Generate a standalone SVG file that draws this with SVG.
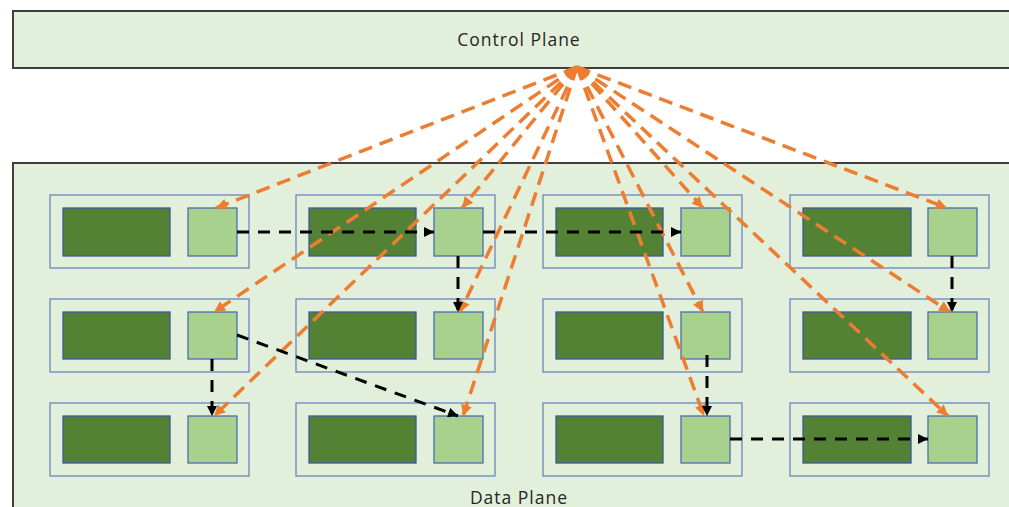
<svg xmlns="http://www.w3.org/2000/svg" width="1009" height="507" viewBox="0 0 1009 507">
<defs>
<style>
.plane{fill:#E2EFDA;stroke:#3F3F3F;stroke-width:2}
.outer{fill:#E2EFDA;stroke:#6F8FC2;stroke-width:1.4}
.dark{fill:#548235;stroke:#3A5A9A;stroke-width:1.3}
.light{fill:#A9D18E;stroke:#4A6FAF;stroke-width:1.3}
.lbl{font-family:"Open Sans","DejaVu Sans",sans-serif;font-size:17.5px;letter-spacing:1px;fill:#262626;text-anchor:middle}
.ctl{fill:none;stroke:#ED7D31;stroke-width:3.5;stroke-dasharray:14 8}
.dat{fill:none;stroke:#000;stroke-width:3;stroke-dasharray:12 9}
</style>
<marker id="ao" viewBox="0 0 10 10" refX="10" refY="5" markerWidth="12" markerHeight="11" markerUnits="userSpaceOnUse" orient="auto">
<path d="M0,0 L10,5 L0,10 Z" fill="#ED7D31"/>
</marker>
<marker id="ab" viewBox="0 0 10 10" refX="10" refY="5" markerWidth="11" markerHeight="10" markerUnits="userSpaceOnUse" orient="auto">
<path d="M0,0 L10,5 L0,10 Z" fill="#000"/>
</marker>
</defs>
<rect width="1009" height="507" fill="#fff"/>
<g id="control-plane">
<rect class="plane" x="13" y="11" width="1010" height="57"/>
<text class="lbl" x="519" y="46">Control Plane</text>
</g>
<g id="data-plane">
<rect class="plane" x="13" y="163" width="1010" height="360"/>
<text class="lbl" x="519" y="503.5">Data Plane</text>
</g>
<g id="node-r1c1"><rect class="outer" x="50" y="195" width="199" height="73"/><rect class="dark" x="63" y="208" width="107" height="48"/><rect class="light" x="188" y="208" width="49" height="48"/></g>
<g id="node-r1c2"><rect class="outer" x="296" y="195" width="199" height="73"/><rect class="dark" x="309" y="208" width="107" height="48"/><rect class="light" x="434" y="208" width="49" height="48"/></g>
<g id="node-r1c3"><rect class="outer" x="543" y="195" width="199" height="73"/><rect class="dark" x="556" y="208" width="107" height="48"/><rect class="light" x="681" y="208" width="49" height="48"/></g>
<g id="node-r1c4"><rect class="outer" x="790" y="195" width="199" height="73"/><rect class="dark" x="803" y="208" width="108" height="48"/><rect class="light" x="928" y="208" width="49" height="48"/></g>
<g id="node-r2c1"><rect class="outer" x="50" y="299" width="199" height="73"/><rect class="dark" x="63" y="312" width="107" height="47"/><rect class="light" x="188" y="312" width="49" height="47"/></g>
<g id="node-r2c2"><rect class="outer" x="296" y="299" width="199" height="73"/><rect class="dark" x="309" y="312" width="107" height="47"/><rect class="light" x="434" y="312" width="49" height="47"/></g>
<g id="node-r2c3"><rect class="outer" x="543" y="299" width="199" height="73"/><rect class="dark" x="556" y="312" width="107" height="47"/><rect class="light" x="681" y="312" width="49" height="47"/></g>
<g id="node-r2c4"><rect class="outer" x="790" y="299" width="199" height="73"/><rect class="dark" x="803" y="312" width="108" height="47"/><rect class="light" x="928" y="312" width="49" height="47"/></g>
<g id="node-r3c1"><rect class="outer" x="50" y="403" width="199" height="73"/><rect class="dark" x="63" y="416" width="107" height="47"/><rect class="light" x="188" y="416" width="49" height="47"/></g>
<g id="node-r3c2"><rect class="outer" x="296" y="403" width="199" height="73"/><rect class="dark" x="309" y="416" width="107" height="47"/><rect class="light" x="434" y="416" width="49" height="47"/></g>
<g id="node-r3c3"><rect class="outer" x="543" y="403" width="199" height="73"/><rect class="dark" x="556" y="416" width="107" height="47"/><rect class="light" x="681" y="416" width="49" height="47"/></g>
<g id="node-r3c4"><rect class="outer" x="790" y="403" width="199" height="73"/><rect class="dark" x="803" y="416" width="108" height="47"/><rect class="light" x="928" y="416" width="49" height="47"/></g>
<g id="connectors">
<g id="control-links">
<line class="ctl" x1="577" y1="67" x2="216" y2="208" marker-end="url(#ao)"/>
<line class="ctl" x1="577" y1="67" x2="462" y2="208" marker-end="url(#ao)"/>
<line class="ctl" x1="577" y1="67" x2="703" y2="208" marker-end="url(#ao)"/>
<line class="ctl" x1="577" y1="67" x2="947" y2="208" marker-end="url(#ao)"/>
<line class="ctl" x1="577" y1="67" x2="214" y2="312" marker-end="url(#ao)"/>
<line class="ctl" x1="577" y1="67" x2="460" y2="312" marker-end="url(#ao)"/>
<line class="ctl" x1="577" y1="67" x2="703" y2="312" marker-end="url(#ao)"/>
<line class="ctl" x1="577" y1="67" x2="950" y2="312" marker-end="url(#ao)"/>
<line class="ctl" x1="577" y1="67" x2="214" y2="416" marker-end="url(#ao)"/>
<line class="ctl" x1="577" y1="67" x2="463" y2="416" marker-end="url(#ao)"/>
<line class="ctl" x1="577" y1="67" x2="704" y2="416" marker-end="url(#ao)"/>
<line class="ctl" x1="577" y1="67" x2="948" y2="416" marker-end="url(#ao)"/>
</g>
<g id="data-links">
<line class="dat" x1="237" y1="232" x2="434" y2="232" marker-end="url(#ab)"/>
<line class="dat" x1="483" y1="232" x2="681" y2="232" marker-end="url(#ab)"/>
<line class="dat" x1="458" y1="256" x2="458" y2="312" marker-end="url(#ab)"/>
<line class="dat" x1="952" y1="256" x2="952" y2="312" marker-end="url(#ab)"/>
<line class="dat" x1="237" y1="335" x2="458" y2="416" marker-end="url(#ab)"/>
<line class="dat" x1="212" y1="359" x2="212" y2="416" marker-end="url(#ab)"/>
<line class="dat" x1="707" y1="355" x2="707" y2="416" marker-end="url(#ab)"/>
<line class="dat" x1="730" y1="439" x2="928" y2="439" marker-end="url(#ab)"/>
</g>
</g>
</svg>
